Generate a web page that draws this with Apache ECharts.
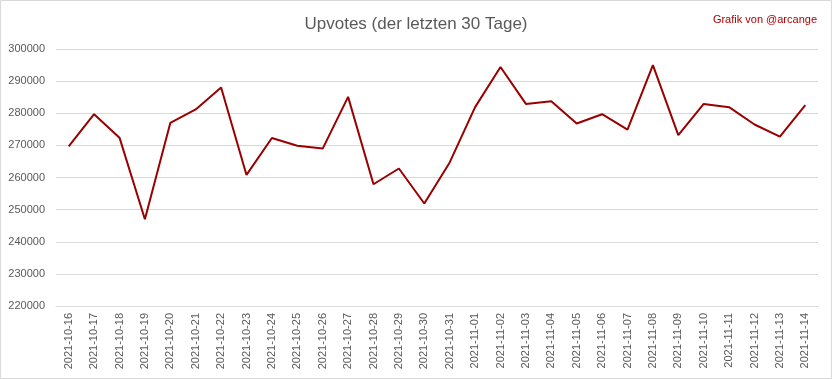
<!DOCTYPE html>
<html><head><meta charset="utf-8">
<script src="https://cdn.jsdelivr.net/npm/echarts@6/dist/echarts.min.js"></script>
<style>html,body{margin:0;padding:0;background:#fff}#c{width:832px;height:379px}</style>
</head><body><div id="c"></div>
<script>
const categories = ["2021-10-16","2021-10-17","2021-10-18","2021-10-19","2021-10-20","2021-10-21","2021-10-22","2021-10-23","2021-10-24","2021-10-25","2021-10-26","2021-10-27","2021-10-28","2021-10-29","2021-10-30","2021-10-31","2021-11-01","2021-11-02","2021-11-03","2021-11-04","2021-11-05","2021-11-06","2021-11-07","2021-11-08","2021-11-09","2021-11-10","2021-11-11","2021-11-12","2021-11-13","2021-11-14"];
const upvotes = [269700,279700,272400,247000,277000,281200,288000,260800,272300,269900,269000,285100,257900,262800,251900,264700,281900,294400,282900,283700,276800,279700,274900,295000,273200,282900,281900,276500,272700,282500];
const yMin = 220000, yMax = 300000, yStep = 10000;
const titleText = "Upvotes (der letzten 30 Tage)";
const creditText = "Grafik von @arcange";

const chart = echarts.init(document.getElementById('c'), null, {renderer:'canvas'});
chart.setOption({
  animation:false,
  backgroundColor:'#ffffff',
  title:[
    {text:titleText,left:'center',top:11,textStyle:{fontFamily:'Liberation Sans',fontSize:17,fontWeight:'normal',color:'#595959'}},
    {text:creditText,right:10,top:9,textStyle:{fontFamily:'Liberation Sans',fontSize:11,fontWeight:'normal',color:'#b00000'}}
  ],
  graphic:[{type:'rect',shape:{x:0.5,y:0.5,width:831,height:378},style:{fill:'none',stroke:'#d9d9d9',lineWidth:1},silent:true}],
  grid:{left:56,right:14,top:49,bottom:73,containLabel:false},
  xAxis:{type:'category',data:categories,boundaryGap:true,
    axisLine:{show:true,lineStyle:{color:'#d9d9d9'}},axisTick:{show:false},
    axisLabel:{rotate:90,interval:0,margin:7,fontFamily:'Liberation Sans',fontSize:11,color:'#595959'}},
  yAxis:{type:'value',min:yMin,max:yMax,interval:yStep,
    axisLine:{show:false},axisTick:{show:false},
    axisLabel:{margin:11,fontFamily:'Liberation Sans',fontSize:11,color:'#595959',formatter:function(v){return String(v);}},
    splitLine:{lineStyle:{color:'#d9d9d9',width:1}}},
  series:[{type:'line',data:upvotes,symbol:'none',lineStyle:{color:'#990000',width:2}}]
});
</script></body></html>
